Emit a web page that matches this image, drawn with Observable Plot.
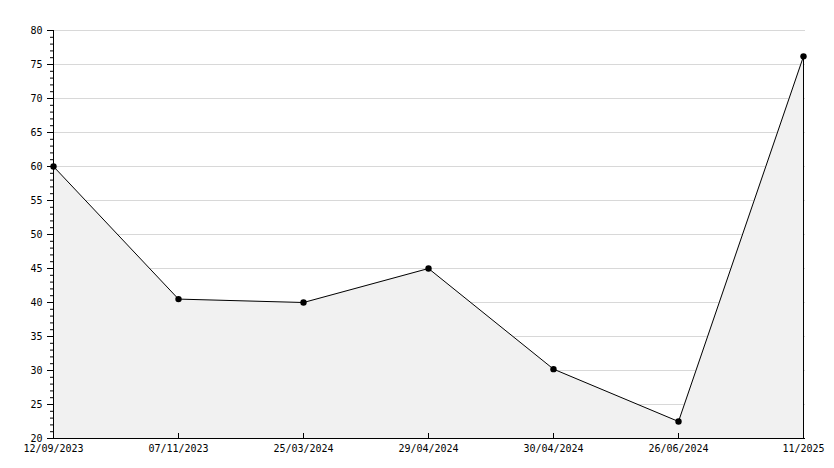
<!DOCTYPE html>
<html>
<head>
<meta charset="utf-8">
<script src="https://cdn.jsdelivr.net/npm/d3@7"></script>
<script src="https://cdn.jsdelivr.net/npm/@observablehq/plot@0.6"></script>
<style>
  html, body { margin: 0; padding: 0; background: #fff; }
</style>
</head>
<body>
<div id="chart"></div>
<script>
const dates = ["12/09/2023", "07/11/2023", "25/03/2024", "29/04/2024", "30/04/2024", "26/06/2024", "11/2025"];
const values = [60, 40.5, 40, 45, 30.2, 22.5, 76.2];
const majorTicks = [20, 25, 30, 35, 40, 45, 50, 55, 60, 65, 70, 75, 80];
const minorTicks = d3.range(20, 81, 1);

const data = dates.map((d, i) => ({date: d, value: values[i]}));

const chart = Plot.plot({
  width: 834,
  height: 468,
  marginLeft: 50,
  marginRight: 29,
  marginTop: 30,
  marginBottom: 30,
  style: {fontFamily: "'DejaVu Sans Mono', monospace", fontSize: "10px", color: "#000", background: "#fff"},
  x: {type: "point", domain: dates, range: [50, 805], padding: 0},
  y: {domain: [20, 80], range: [438, 30]},
  marks: [
    Plot.gridY(majorTicks, {stroke: "#d8d8d8", strokeOpacity: 1}),
    Plot.areaY(data, {x: "date", y: "value", y1: 20, fill: "#f1f1f1", curve: "linear"}),
    Plot.ruleX(data.slice(-1), {x: "date", y1: 20, y2: "value", stroke: "#000"}),
    Plot.lineY(data, {x: "date", y: "value", stroke: "#000", strokeWidth: 1}),
    Plot.dot(data, {x: "date", y: "value", r: 3.2, fill: "#000", stroke: "none", symbol: "circle"}),
    Plot.ruleY([20], {stroke: "#000"}),
    Plot.ruleX([dates[0]], {stroke: "#000"}),
    Plot.axisY(minorTicks, {tickSize: 3, dx: 3, text: null, label: null, stroke: "#000"}),
    Plot.axisY(majorTicks, {tickSize: 4, dx: 4, text: null, label: null, stroke: "#000"}),
    Plot.axisY(majorTicks, {tickSize: 3, tickPadding: 5, fill: "#000", label: null, stroke: "#000"}),
    Plot.axisX({tickSize: 5, dy: -5, text: null, label: null, stroke: "#000"}),
    Plot.axisX({tickSize: 0, tickPadding: 6, fill: "#000", label: null})
  ]
});
document.getElementById("chart").appendChild(chart);
</script>
</body>
</html>
